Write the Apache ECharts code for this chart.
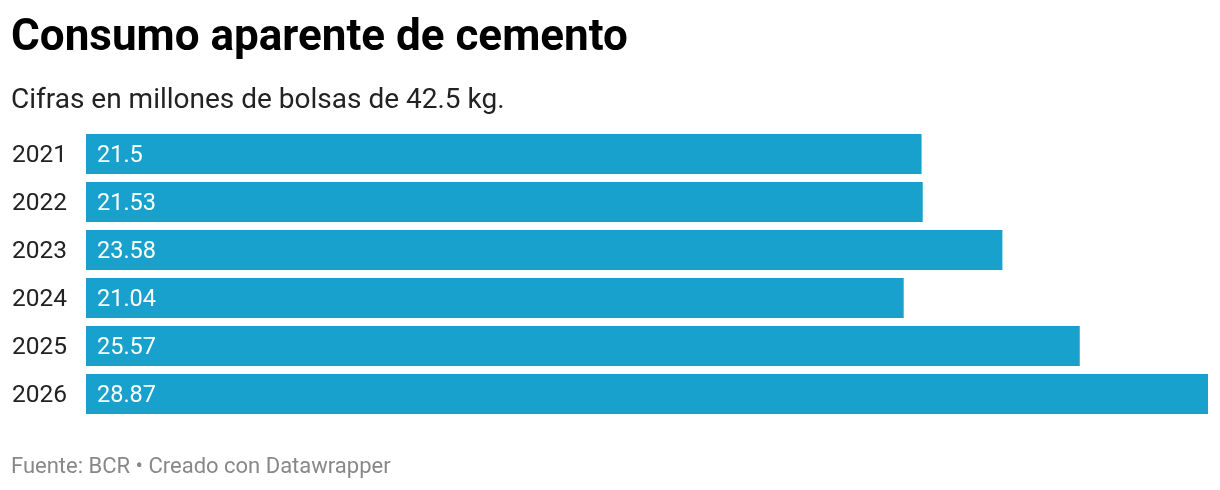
<!DOCTYPE html>
<html><head><meta charset="utf-8">
<script src="https://cdn.jsdelivr.net/npm/echarts@6/dist/echarts.min.js"></script>
<style>html,body{margin:0;padding:0;background:#fff}#c{width:1220px;height:490px}</style>
</head><body><div id="c"></div>
<script>
const categories = ['2021','2022','2023','2024','2025','2026'];
const values = [21.5, 21.53, 23.58, 21.04, 25.57, 28.87];
const titleText = 'Consumo aparente de cemento';
const subtitleText = 'Cifras en millones de bolsas de 42.5 kg.';
const footerText = 'Fuente: BCR • Creado con Datawrapper';

const chart = echarts.init(document.getElementById('c'), null, {renderer:'canvas'});
chart.setOption({
  animation:false,
  backgroundColor:'#fff',
  title:[
    {text:titleText, left:11, top:17, padding:0, textStyle:{fontFamily:'Roboto', fontWeight:'bold', fontSize:44, lineHeight:44, color:'#000'}},
    {text:subtitleText, left:11, top:87, padding:0, textStyle:{fontFamily:'Roboto', fontWeight:'normal', fontSize:28, lineHeight:28, color:'#222'}},
    {text:footerText, left:11, top:456, padding:0, textStyle:{fontFamily:'Roboto', fontWeight:'normal', fontSize:22, lineHeight:22, color:'#888'}}
  ],
  grid:{left:86, right:12, top:130, bottom:72},
  xAxis:{type:'value', min:0, max:28.87, show:false},
  yAxis:{type:'category', data:categories, inverse:true,
    axisLine:{show:false}, axisTick:{show:false},
    axisLabel:{align:'left', margin:74,
      formatter: v => '{y|' + v + '}',
      rich:{y:{fontFamily:'Roboto', fontSize:24.5, lineHeight:24, color:'#222', padding:[3,0,0,0]}}}},
  series:[{type:'bar', data:values, barCategoryGap:'16.67%', itemStyle:{color:'#18a1cd'},
    label:{show:true, position:'insideLeft', distance:11, offset:[0,2], fontFamily:'Roboto', fontSize:23.5, color:'#fff'}}]
});
</script></body></html>
